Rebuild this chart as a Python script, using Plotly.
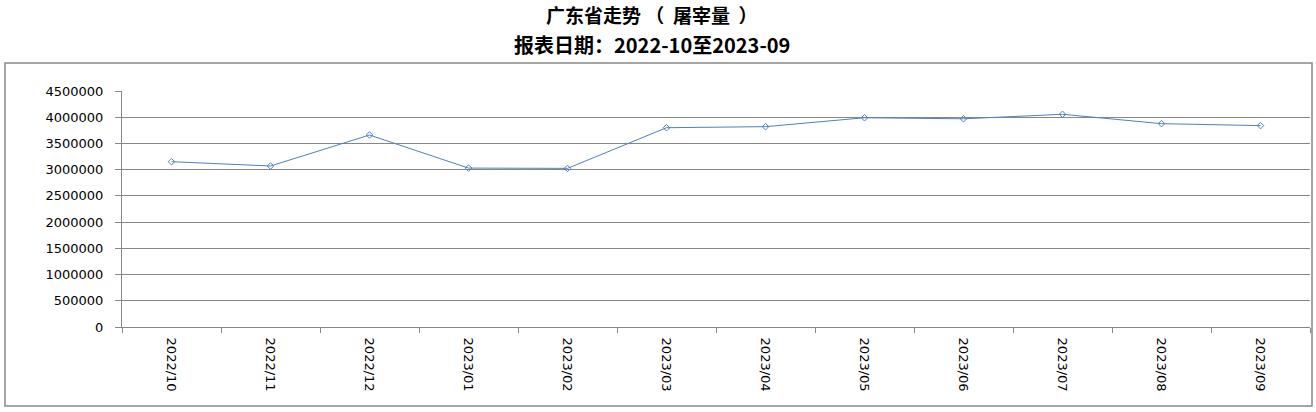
import plotly.graph_objects as go

months = ["2022/10", "2022/11", "2022/12", "2023/01", "2023/02", "2023/03",
          "2023/04", "2023/05", "2023/06", "2023/07", "2023/08", "2023/09"]
slaughter = [3152000, 3070000, 3661000, 3030000, 3025000, 3800000,
             3820000, 3990000, 3970000, 4056000, 3877000, 3840000]
y_ticks = [0, 500000, 1000000, 1500000, 2000000, 2500000, 3000000, 3500000, 4000000, 4500000]

title1 = "广东省走势\u00a0（\u00a0\u00a0屠宰量\u00a0\u00a0）"
title2 = "报表日期：2022-10至2023-09"

W, H = 1316, 412
L, R, T, B = 122, 6, 91, 85
pw, ph = W - L - R, H - T - B

def px_x(p):
    return (p - L) / pw

def px_y(p):
    return (H - B - p) / ph

fig = go.Figure()
fig.add_trace(go.Scatter(
    x=months, y=slaughter, mode="lines+markers",
    line=dict(color="#4F81BD", width=1),
    marker=dict(symbol="diamond-open", size=5, color="#4F81BD", line=dict(width=1)),
    showlegend=False, hoverinfo="x+y",
))

grid = "#868686"
tick_font = dict(family="DejaVu Sans, Verdana, sans-serif", size=13, color="black")
fig.update_layout(
    width=W, height=H,
    margin=dict(l=L, r=R, t=T, b=B),
    paper_bgcolor="white", plot_bgcolor="white",
    font=dict(family="DejaVu Sans, Verdana, sans-serif", size=13, color="black"),
    xaxis=dict(
        type="category", categoryorder="array", categoryarray=months,
        tickson="boundaries", ticks="outside", ticklen=5, tickcolor=grid,
        showgrid=False, showline=True, linecolor=grid, linewidth=1,
        tickangle=90, tickfont=tick_font, ticklabelstandoff=7,
        range=[-0.5, len(months) - 0.5], zeroline=False,
    ),
    yaxis=dict(
        range=[0, 4500000], tickvals=y_ticks, ticktext=[str(v) for v in y_ticks],
        ticks="outside", ticklen=6, tickcolor=grid,
        showgrid=True, gridcolor=grid, gridwidth=1,
        showline=True, linecolor=grid, linewidth=1, zeroline=False,
        tickfont=tick_font,
        ticklabelstandoff=9,
    ),
    shapes=[dict(
        type="rect", xref="paper", yref="paper",
        x0=px_x(5), x1=px_x(1312), y0=px_y(406), y1=px_y(63),
        line=dict(color="#888888", width=1.5), layer="below",
    )],
    annotations=[
        dict(text="<b>" + title1 + "</b>", xref="paper", yref="paper",
             x=px_x(652), y=px_y(14), xanchor="center", yanchor="middle",
             showarrow=False, font=dict(family="Noto Sans CJK SC", size=19, color="black")),
        dict(text="<b>" + title2 + "</b>", xref="paper", yref="paper",
             x=px_x(652), y=px_y(44), xanchor="center", yanchor="middle",
             showarrow=False, font=dict(family="Noto Sans CJK SC", size=20, color="black")),
    ],
)

fig.write_html("out.html", config={"displayModeBar": False},
               post_script="document.body.style.margin='0';")
